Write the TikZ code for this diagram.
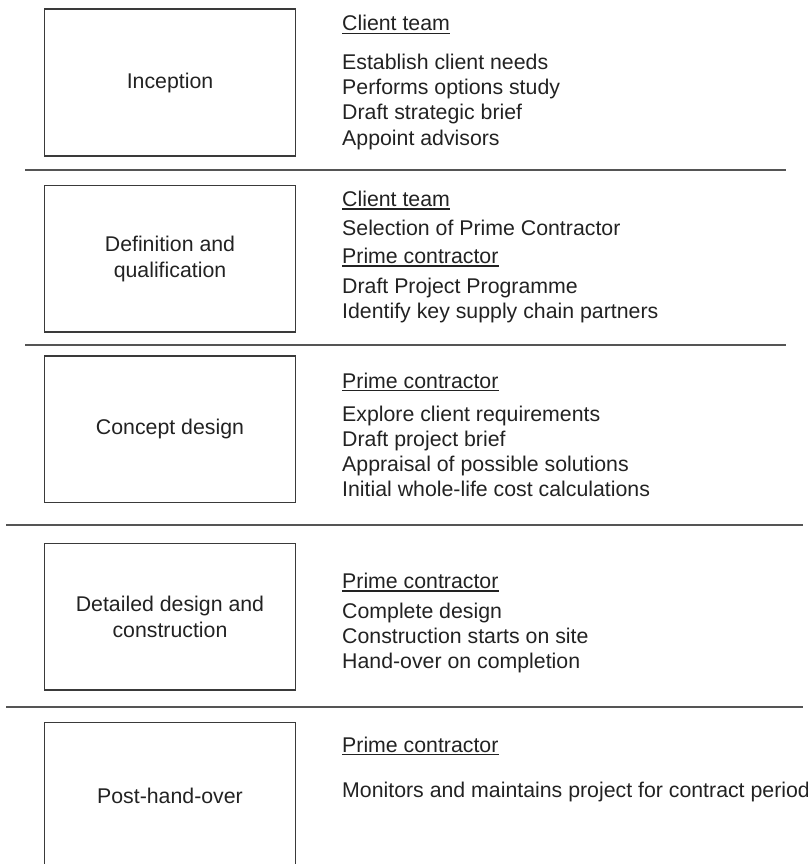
\documentclass[tikz,border=0pt]{standalone}
\usepackage{fontspec}
\setmainfont{Liberation Sans}
\definecolor{ink}{HTML}{222222}
\definecolor{rulegray}{HTML}{555555}
\definecolor{boxgray}{HTML}{3A3A3A}
\newcommand\headline[3]{%
  \node[item] (#1) at (342,#2) {#3};
  \draw[uline] ([yshift=-2.5pt]#1.base west) -- ([yshift=-2.5pt]#1.base east);}
\begin{document}
\begin{tikzpicture}[x=1pt,y=-1pt,
  txt/.style={font=\fontsize{21.3}{26}\selectfont, text=ink, inner sep=0pt},
  stage/.style={txt, draw=boxgray, line width=1.5pt, minimum width=251pt,
    minimum height=146.5pt, align=center},
  item/.style={txt, anchor=base west},
  sep/.style={draw=rulegray, line width=2pt},
  uline/.style={draw=ink, line width=1.6pt}]
\useasboundingbox (0,0) rectangle (807,864);
\clip (0,0) rectangle (807,864);

% stage boxes
\node[stage] (s1) at (170,82.5)  {Inception};
\node[stage] (s2) at (170,258.5) {Definition and\\qualification};
\node[stage] (s3) at (170,429)   {Concept design};
\node[stage] (s4) at (170,616.5) {Detailed design and\\construction};
\node[stage] (s5) at (170,795.5) {Post-hand-over};

% separators between stages
\coordinate (r1a) at (25,170);  \coordinate (r1b) at (786,170);
\coordinate (r2a) at (25,345);  \coordinate (r2b) at (786,345);
\coordinate (r3a) at (6,525);   \coordinate (r3b) at (803,525);
\coordinate (r4a) at (6,707);   \coordinate (r4b) at (803,707);
\draw[sep, line width=1.6pt] (r1a) -- (r1b);
\draw[sep, line width=1.6pt] (r2a) -- (r2b);
\draw[sep, line width=2.2pt] (r3a) -- (r3b);
\draw[sep, line width=2.2pt] (r4a) -- (r4b);

% inception
\headline{h1}{31}{Client team}
\node[item] (a1) at (342,70)  {Establish client needs};
\node[item] (a2) at (342,95)  {Performs options study};
\node[item] (a3) at (342,120) {Draft strategic brief};
\node[item] (a4) at (342,145) {Appoint advisors};

% definition and qualification
\headline{h2}{206.5}{Client team}
\node[item] (b1) at (342,235) {Selection of Prime Contractor};
\headline{h3}{263.5}{Prime contractor}
\node[item] (b2) at (342,293) {Draft Project Programme};
\node[item] (b3) at (342,318) {Identify key supply chain partners};

% concept design
\headline{h4}{388}{Prime contractor}
\node[item] (c1) at (342,421) {Explore client requirements};
\node[item] (c2) at (342,446) {Draft project brief};
\node[item] (c3) at (342,471) {Appraisal of possible solutions};
\node[item] (c4) at (342,496) {Initial whole-life cost calculations};

% detailed design and construction
\headline{h5}{588.5}{Prime contractor}
\node[item] (d1) at (342,618) {Complete design};
\node[item] (d2) at (342,643) {Construction starts on site};
\node[item] (d3) at (342,668) {Hand-over on completion};

% post-hand-over
\headline{h6}{752}{Prime contractor}
\node[item] (e1) at (342,797) {Monitors and maintains project for contract period};
\end{tikzpicture}
\end{document}
